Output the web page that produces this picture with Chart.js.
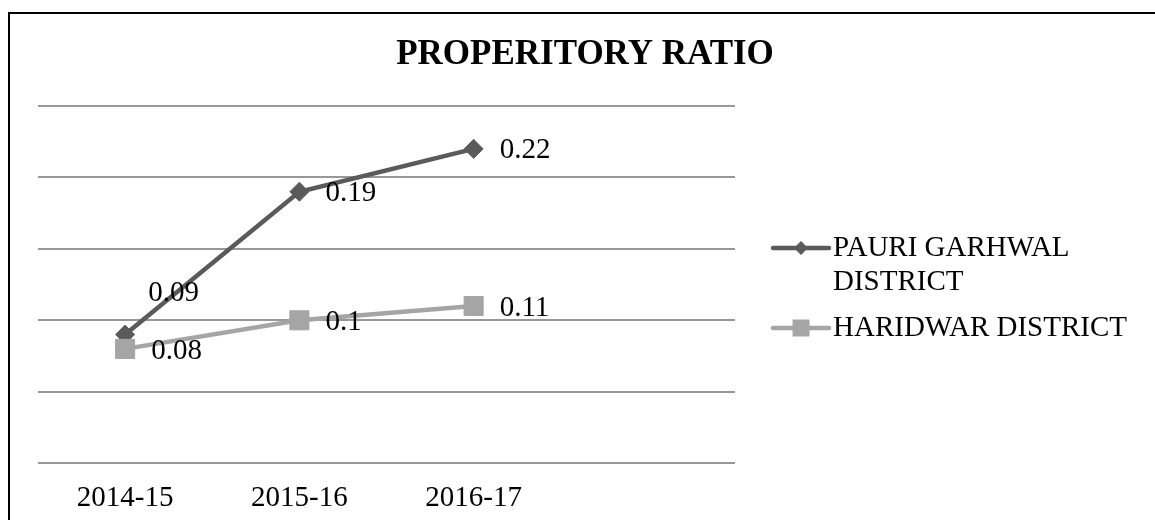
<!DOCTYPE html>
<html>
<head>
<meta charset="utf-8">
<script src="https://cdn.jsdelivr.net/npm/chart.js@4.4.1/dist/chart.umd.min.js"></script>
<style>
  html, body { margin: 0; padding: 0; background: #fff; overflow: hidden; }
  #wrap { position: relative; width: 1155px; height: 520px; overflow: hidden; }
  #frame { position: absolute; left: 8px; top: 12px; width: 1300px; height: 700px;
           border-top: 2px solid #000; border-left: 2px solid #000; }
  #chart { position: absolute; left: 0; top: 0; }
</style>
</head>
<body>
<div id="wrap">
  <div id="frame"></div>
  <canvas id="chart" width="1155" height="549"></canvas>
</div>
<script>
const years = ['2014-15', '2015-16', '2016-17', ''];
const pauriGarhwal = [0.09, 0.19, 0.22];
const haridwar = [0.08, 0.1, 0.11];
const yTicks = { min: 0, max: 0.25, step: 0.05 };

const FONT = "'Liberation Serif', 'Times New Roman', serif";

function drawMarker(ctx, style, r, x, y) {
  if (style === 'rect') {
    const s = r * Math.SQRT1_2;
    ctx.rect(x - s, y - s, 2 * s, 2 * s);
  } else {
    ctx.moveTo(x - r, y);
    ctx.lineTo(x, y - r);
    ctx.lineTo(x + r, y);
    ctx.lineTo(x, y + r);
    ctx.closePath();
  }
}

// title, point labels and the wrapped legend on the right
const decorations = {
  id: 'decorations',
  afterDatasetsDraw(chart, args, opts) {
    const ctx = chart.ctx;
    ctx.save();
    ctx.fillStyle = '#000';

    ctx.font = 'bold 35px ' + FONT;
    ctx.textAlign = 'center';
    ctx.textBaseline = 'middle';
    ctx.fillText(opts.title, opts.titleX, opts.titleY);

    ctx.font = '29px ' + FONT;
    ctx.textAlign = 'left';
    chart.data.datasets.forEach((ds, di) => {
      const meta = chart.getDatasetMeta(di);
      meta.data.forEach((pt, i) => {
        const n = opts.nudge[di + '-' + i] || { dx: 26, dy: 2 };
        ctx.fillText(String(ds.data[i]), pt.x + n.dx, pt.y + n.dy);
      });
    });

    // legend
    let y = opts.legendY;
    const x0 = opts.legendX;
    chart.data.datasets.forEach(ds => {
      const words = ds.label.split(' ');
      const lines = [];
      let cur = '';
      words.forEach(w => {
        const t = cur ? cur + ' ' + w : w;
        if (ctx.measureText(t).width > opts.legendMaxWidth && cur) { lines.push(cur); cur = w; }
        else cur = t;
      });
      lines.push(cur);

      ctx.strokeStyle = ds.borderColor;
      ctx.lineWidth = ds.borderWidth;
      ctx.lineCap = 'round';
      ctx.beginPath();
      ctx.moveTo(x0, y);
      ctx.lineTo(x0 + 56, y);
      ctx.stroke();
      ctx.fillStyle = ds.pointBackgroundColor;
      ctx.beginPath();
      drawMarker(ctx, ds.pointStyle, ds.pointStyle === 'rect' ? 12 : 7, x0 + 28, y);
      ctx.fill();

      ctx.fillStyle = '#000';
      lines.forEach((ln, k) => ctx.fillText(ln, x0 + 60, y + k * 34));
      y += (lines.length - 1) * 34 + 46;
    });
    ctx.restore();
  }
};

new Chart(document.getElementById('chart'), {
  type: 'line',
  data: {
    labels: years,
    datasets: [{
      label: 'PAURI GARHWAL DISTRICT',
      data: pauriGarhwal,
      borderColor: '#5a5a5a',
      backgroundColor: '#5a5a5a',
      pointBackgroundColor: '#5a5a5a',
      pointBorderColor: '#5a5a5a',
      borderWidth: 4.5,
      pointStyle: 'rectRot',
      pointRadius: 9.5,
      pointBorderWidth: 1,
      tension: 0,
      order: 1
    }, {
      label: 'HARIDWAR DISTRICT',
      data: haridwar,
      borderColor: '#a5a5a5',
      backgroundColor: '#a5a5a5',
      pointBackgroundColor: '#a5a5a5',
      pointBorderColor: '#a5a5a5',
      borderWidth: 4.5,
      pointStyle: 'rect',
      pointRadius: 13.5,
      pointBorderWidth: 1,
      tension: 0,
      order: 0
    }]
  },
  options: {
    responsive: false,
    animation: false,
    layout: { padding: { left: 38, right: 420, top: 106, bottom: 15 } },
    plugins: {
      legend: { display: false },
      title: { display: false },
      tooltip: { enabled: false },
      decorations: {
        title: 'PROPERITORY RATIO',
        titleX: 585,
        titleY: 55,
        nudge: { '0-0': { dx: 23, dy: -41 } },
        legendX: 773,
        legendY: 248,
        legendMaxWidth: 315
      }
    },
    scales: {
      x: {
        offset: true,
        grid: { display: false, drawTicks: false },
        border: { display: false },
        ticks: { color: '#000', font: { family: FONT, size: 29 }, padding: 18, maxRotation: 0 }
      },
      y: {
        min: yTicks.min,
        max: yTicks.max,
        grid: { color: '#989898', lineWidth: 2, drawTicks: false },
        border: { display: false },
        ticks: { display: false, stepSize: yTicks.step }
      }
    }
  },
  plugins: [decorations]
});
</script>
</body>
</html>
